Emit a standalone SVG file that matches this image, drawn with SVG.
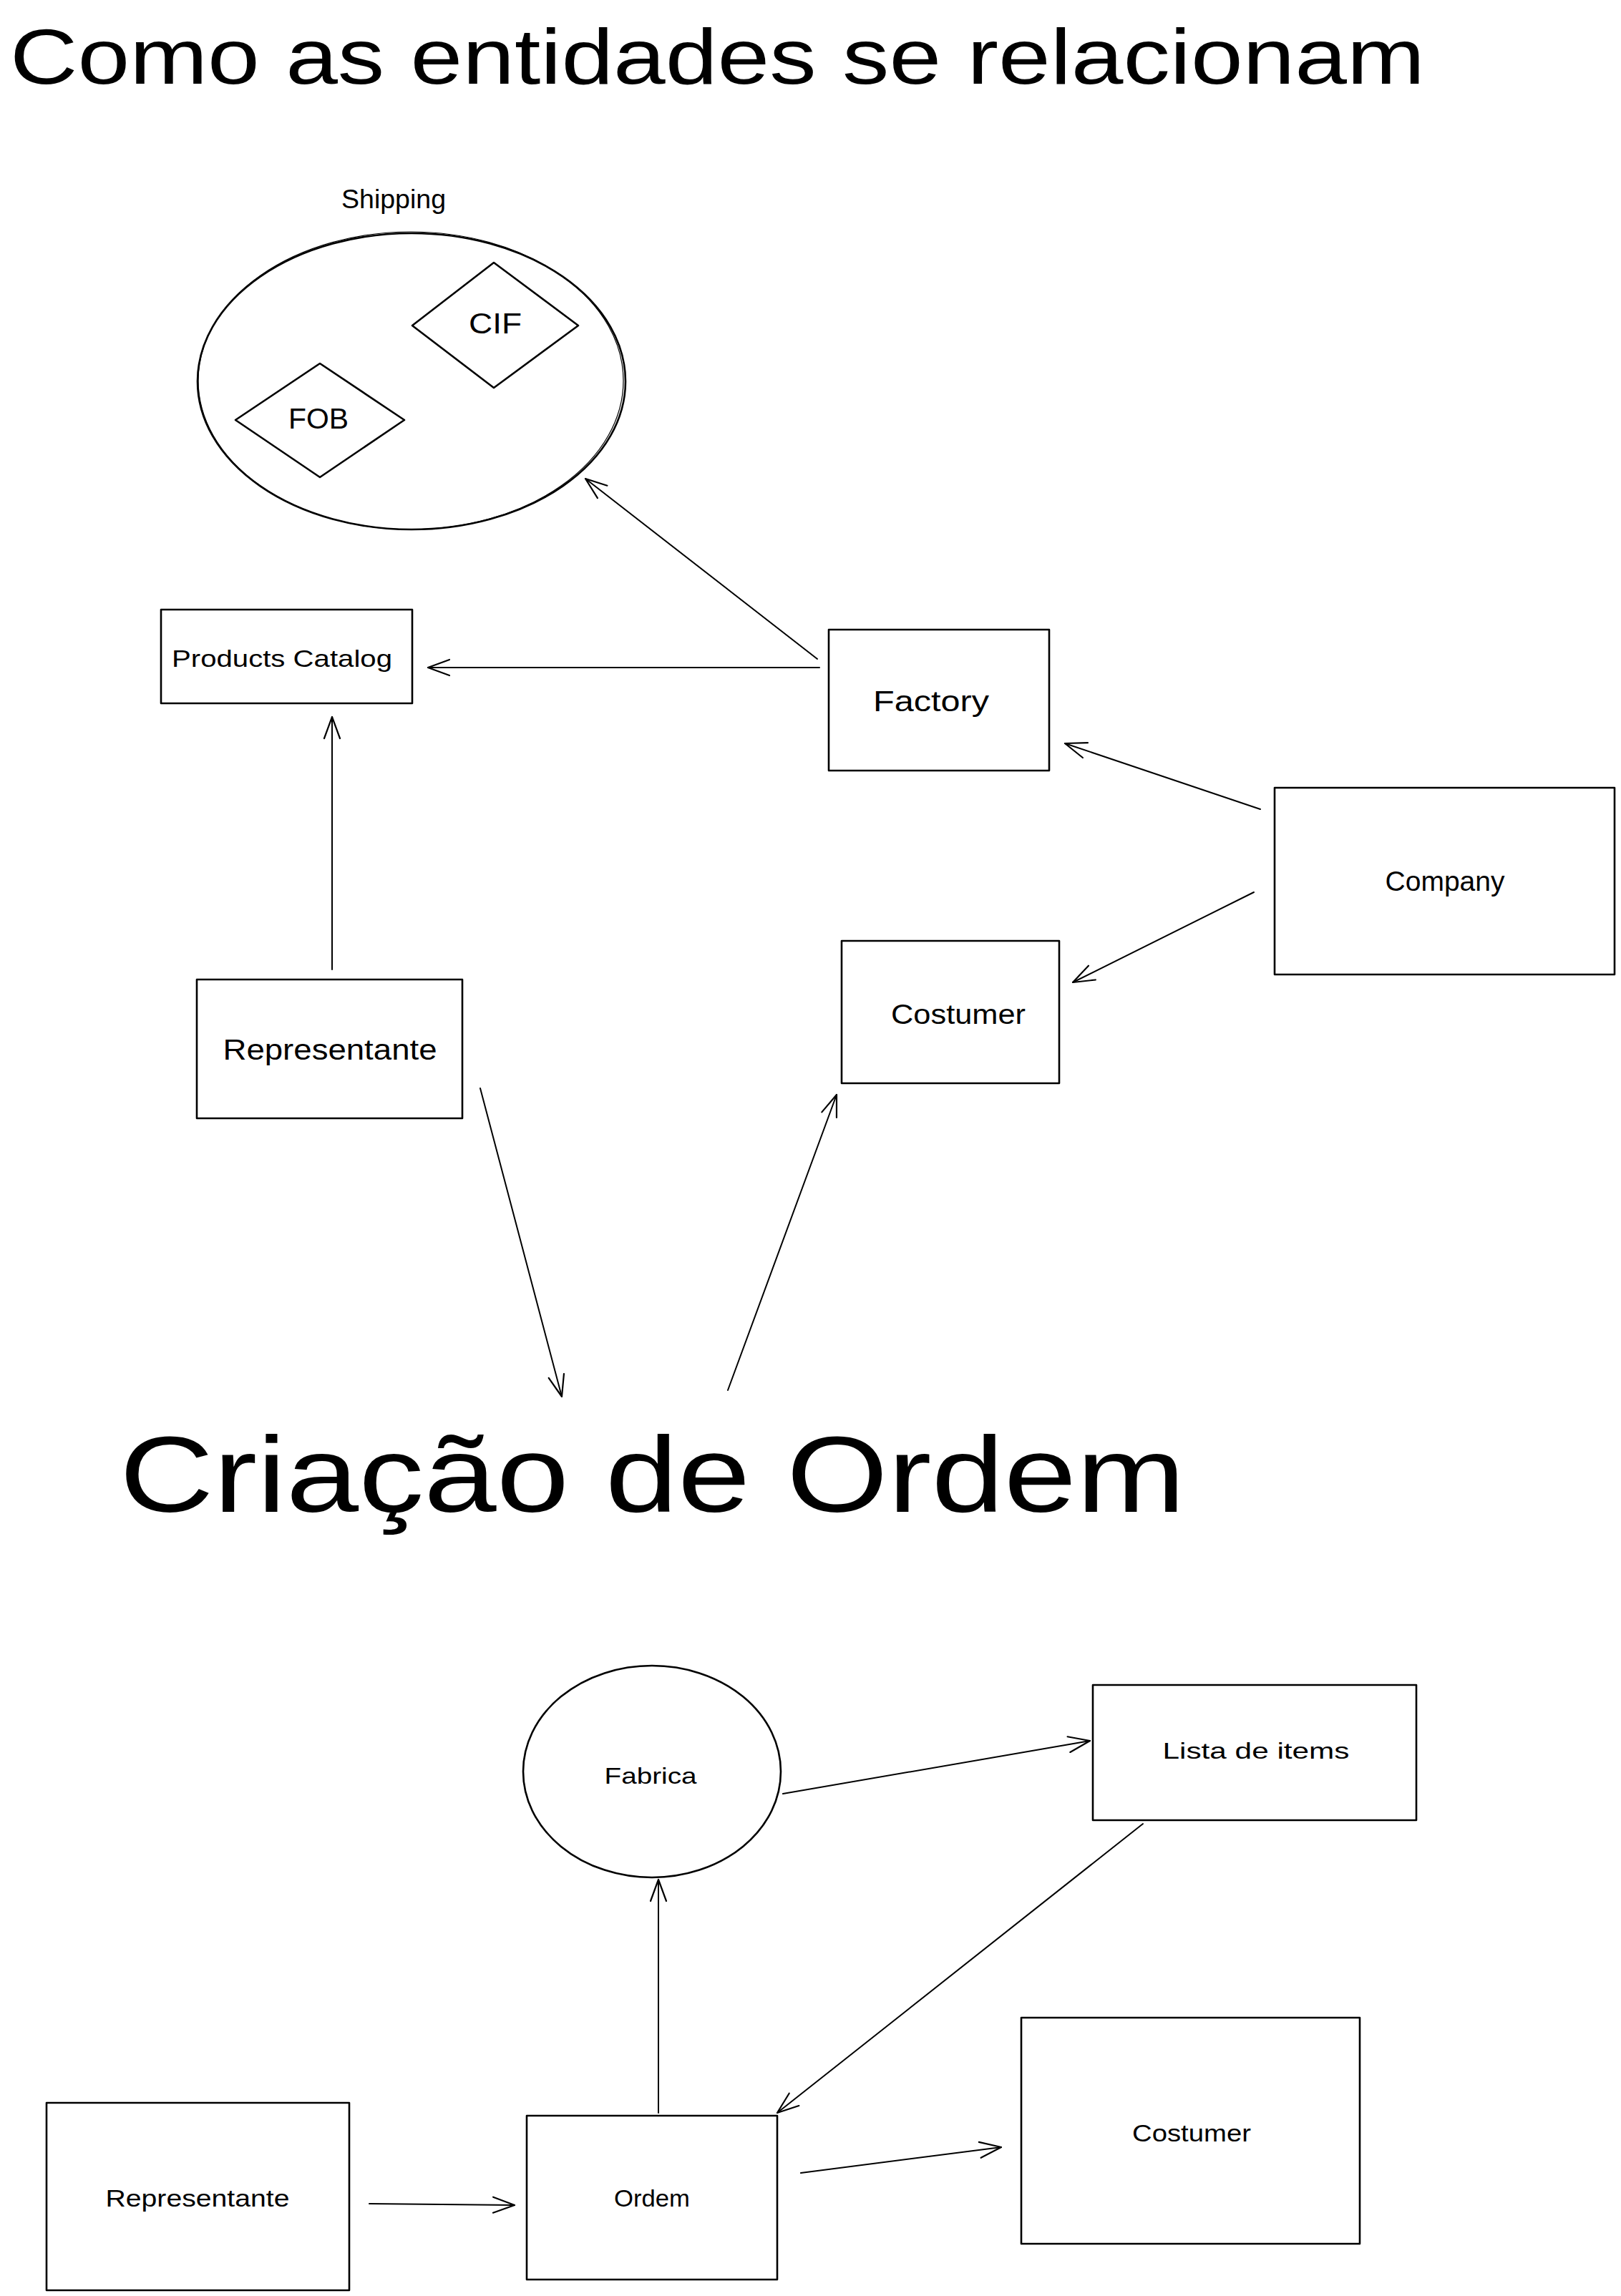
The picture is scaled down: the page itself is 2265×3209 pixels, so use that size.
<svg xmlns="http://www.w3.org/2000/svg" width="2265" height="3209" viewBox="0 0 2265 3209">
<defs>
<style>
.bg{fill:#ffffff}
.shape{fill:none;stroke:#000;stroke-width:2.6;stroke-linejoin:round;stroke-linecap:round}
.shape2{fill:none;stroke:#000;stroke-width:1.2;stroke-linecap:round}
.edge{fill:none;stroke:#000;stroke-width:2;stroke-linecap:round}
.lbl{font-family:"Liberation Sans","DejaVu Sans",sans-serif;fill:#000;text-anchor:middle;dominant-baseline:central}
.title{font-family:"Liberation Sans","DejaVu Sans",sans-serif;fill:#000}
</style>
<marker id="ah" markerUnits="userSpaceOnUse" viewBox="-34 -16 40 32" refX="0" refY="0" markerWidth="40" markerHeight="32" orient="auto">
<path d="M-30,-11 L0,0 L-30,11" fill="none" stroke="#000" stroke-width="2.2" stroke-linecap="round" stroke-linejoin="round"/>
</marker>
</defs>
<rect class="bg" x="0" y="0" width="2265" height="3209"/>

<text class="title" x="14" y="117" font-size="110" textLength="1977" lengthAdjust="spacingAndGlyphs">Como as entidades se relacionam</text>
<text class="title" x="167" y="2113" font-size="150" textLength="1489" lengthAdjust="spacingAndGlyphs">Criação de Ordem</text>

<g id="shipping">
<text class="lbl" x="550" y="278" font-size="36" textLength="146" lengthAdjust="spacingAndGlyphs">Shipping</text>
<ellipse class="shape" cx="575" cy="533" rx="299" ry="207"/>
<ellipse class="shape2" cx="574" cy="532" rx="297" ry="208"/>
</g>
<g id="cif">
<polygon class="shape" points="690,367 808,455 690,542 576,455"/>
<text class="lbl" x="692" y="452" font-size="40" textLength="74" lengthAdjust="spacingAndGlyphs">CIF</text>
</g>
<g id="fob">
<polygon class="shape" points="447,508 565,587 447,667 329,587"/>
<text class="lbl" x="445" y="585" font-size="40" textLength="84" lengthAdjust="spacingAndGlyphs">FOB</text>
</g>
<g id="products-catalog">
<rect class="shape" x="225" y="852" width="351" height="131"/>
<text class="lbl" x="394" y="920" font-size="34" textLength="308" lengthAdjust="spacingAndGlyphs">Products Catalog</text>
</g>
<g id="factory">
<rect class="shape" x="1158" y="880" width="308" height="197"/>
<text class="lbl" x="1301" y="980" font-size="40" textLength="162" lengthAdjust="spacingAndGlyphs">Factory</text>
</g>
<g id="company">
<rect class="shape" x="1781" y="1101" width="475" height="261"/>
<text class="lbl" x="2019" y="1232" font-size="38" textLength="167" lengthAdjust="spacingAndGlyphs">Company</text>
</g>
<g id="costumer-top">
<rect class="shape" x="1176" y="1315" width="304" height="199"/>
<text class="lbl" x="1339" y="1418" font-size="38" textLength="188" lengthAdjust="spacingAndGlyphs">Costumer</text>
</g>
<g id="representante-top">
<rect class="shape" x="275" y="1369" width="371" height="194"/>
<text class="lbl" x="461" y="1467" font-size="40" textLength="299" lengthAdjust="spacingAndGlyphs">Representante</text>
</g>

<g id="fabrica">
<ellipse class="shape" cx="911" cy="2476" rx="180" ry="148"/>
<text class="lbl" x="909" y="2482" font-size="32" textLength="129" lengthAdjust="spacingAndGlyphs">Fabrica</text>
</g>
<g id="lista-de-items">
<rect class="shape" x="1527" y="2355" width="452" height="189"/>
<text class="lbl" x="1755" y="2447" font-size="32" textLength="261" lengthAdjust="spacingAndGlyphs">Lista de items</text>
</g>
<g id="representante-bottom">
<rect class="shape" x="65" y="2939" width="423" height="262"/>
<text class="lbl" x="276" y="3072" font-size="34" textLength="257" lengthAdjust="spacingAndGlyphs">Representante</text>
</g>
<g id="ordem">
<rect class="shape" x="736" y="2957" width="350" height="229"/>
<text class="lbl" x="911" y="3072" font-size="34" textLength="106" lengthAdjust="spacingAndGlyphs">Ordem</text>
</g>
<g id="costumer-bottom">
<rect class="shape" x="1427" y="2820" width="473" height="316"/>
<text class="lbl" x="1665" y="2981" font-size="34" textLength="166" lengthAdjust="spacingAndGlyphs">Costumer</text>
</g>

<g id="connectors">
<line class="edge" x1="1142" y1="921" x2="818" y2="669" marker-end="url(#ah)"/>
<line class="edge" x1="1145" y1="933" x2="598" y2="933" marker-end="url(#ah)"/>
<line class="edge" x1="1761" y1="1131" x2="1488" y2="1039" marker-end="url(#ah)"/>
<line class="edge" x1="1752" y1="1247" x2="1499" y2="1373" marker-end="url(#ah)"/>
<line class="edge" x1="464" y1="1355" x2="464" y2="1002" marker-end="url(#ah)"/>
<line class="edge" x1="671" y1="1521" x2="785" y2="1952" marker-end="url(#ah)"/>
<line class="edge" x1="1017" y1="1943" x2="1169" y2="1530" marker-end="url(#ah)"/>
<line class="edge" x1="1094" y1="2507" x2="1523" y2="2433" marker-end="url(#ah)"/>
<line class="edge" x1="1597" y1="2549" x2="1086" y2="2953" marker-end="url(#ah)"/>
<line class="edge" x1="920" y1="2953" x2="920" y2="2627" marker-end="url(#ah)"/>
<line class="edge" x1="516" y1="3080" x2="719" y2="3082" marker-end="url(#ah)"/>
<line class="edge" x1="1119" y1="3037" x2="1399" y2="3001" marker-end="url(#ah)"/>
</g>
</svg>
